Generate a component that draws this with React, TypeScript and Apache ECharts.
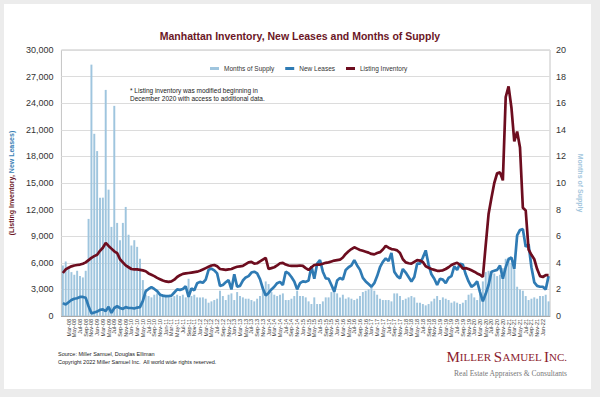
import React, { useEffect, useRef } from 'react';
import * as echarts from 'echarts';

const monthNames = ['Jan', 'Feb', 'Mar', 'Apr', 'May', 'Jun', 'Jul', 'Aug', 'Sep', 'Oct', 'Nov', 'Dec'];
const yearSuffixes = ['08', '09', '10', '11', '12', '13', '14', '15', '16', '17', '18', '19', '20', '21', '22'];
const monthCount = 171; // Jan-08 .. Mar-22
const categories: string[] = yearSuffixes
  .flatMap((y) => monthNames.map((m) => `${m}-${y}`))
  .slice(0, monthCount);

const leftTicks = { min: 0, max: 30000, interval: 3000 };
const rightTicks = { min: 0, max: 20, interval: 2 };

const monthsOfSupply = [
  3.8, 4.1, 3.6, 3.3, 3.1, 3.4, 3.0, 2.9, 3.4, 7.3, 18.9, 13.7,
  12.4, 8.9, 8.9, 17.0, 9.5, 6.7, 15.8, 7.0, 5.7, 7.0, 8.2, 6.1,
  5.3, 5.7, 5.2, 4.3, 2.7, 1.6, 1.5, 1.4, 1.6, 1.7, 1.7, 1.6,
  1.5, 1.4, 1.4, 1.5, 1.6, 1.5, 1.6, 1.4, 2.8, 1.5, 1.6, 1.4,
  1.4, 1.4, 1.3, 1.0, 1.1, 1.2, 1.3, 1.9, 1.5, 1.2, 1.6, 1.7,
  1.2, 1.8, 1.5, 1.4, 1.3, 1.3, 1.2, 1.1, 1.3, 1.5, 2.2, 2.6,
  2.4, 1.8, 1.6, 1.5, 1.6, 1.7, 1.2, 1.2, 1.3, 1.5, 1.9, 1.5,
  1.5, 1.4, 1.1, 0.9, 1.4, 0.9, 0.9, 1.1, 1.4, 1.4, 1.8, 2.2,
  1.7, 1.4, 1.6, 1.3, 1.4, 1.3, 1.2, 1.3, 1.5, 1.8, 1.9, 2.0,
  2.2, 1.9, 1.6, 1.3, 1.2, 1.2, 1.2, 1.1, 1.7, 1.7, 1.5, 1.2,
  1.3, 1.4, 1.5, 1.4, 1.0, 1.0, 0.9, 0.8, 0.9, 1.1, 1.3, 1.5,
  1.2, 1.4, 1.3, 1.2, 1.0, 1.1, 1.0, 0.9, 1.0, 1.2, 1.6, 1.7,
  1.4, 1.2, 1.7, 2.6, 3.3, 3.4, 3.3, 3.2, 3.0, 3.1, 3.6, 4.3,
  4.4, 4.0, 3.5, 2.2, 2.0, 1.9, 1.5, 1.2, 1.3, 1.4, 1.3, 1.5,
  1.5, 1.6, 1.1,
];

const newLeases = [
  1450, 1300, 1550, 1800, 1950, 2000, 2150, 2150, 2050, 1100, 300, 400,
  500, 700, 750, 550, 1050, 350, 900, 1100, 900, 800, 1000, 900,
  900, 850, 950, 1000, 1700, 2800, 3050, 3250, 3050, 2800, 2400, 2300,
  2250, 2250, 2300, 2650, 3000, 2950, 3050, 3350, 2150, 3100, 2900, 3700,
  3850, 3750, 4100, 5200, 5350, 5150, 4800, 3400, 3500, 3800, 4050, 3000,
  4700, 3300, 3400, 4000, 4350, 4500, 4900, 5000, 4800, 4150, 3100, 2300,
  2600, 3000, 3300, 3700, 3850, 3500, 5000, 4800, 4400, 3900, 3000, 3700,
  3900, 3850, 4000, 5600, 4200, 5900, 6300, 5000, 4250, 4200, 3500, 2750,
  4000, 4300, 4100, 5200, 5500, 5700, 6300, 5700, 5200, 4300, 3900, 3600,
  3300, 3700, 4500, 5500, 6100, 6500, 6200, 7100, 5000, 4500, 4250, 5300,
  4900, 4400, 3900, 4400, 5900, 5900, 6600, 7400, 5800, 4700, 4200, 3500,
  4200, 4100, 3700, 4300, 4500, 5600, 5200, 5900, 5800, 4700, 3900, 3300,
  3500, 3900, 2700, 1650, 2500, 3500, 5000, 5100, 5200, 5700, 4200, 5500,
  6400, 6600, 5300, 9100, 9700, 9800, 7800, 8100, 5500, 3800, 3400, 3300,
  3300, 3000, 4500,
];

const listingInventory = [
  4850, 5250, 5450, 5600, 5700, 5750, 5800, 5900, 6050, 6300, 6550, 6750,
  6900, 7350, 7700, 8250, 7900, 7600, 7300, 7100, 6400, 6050, 5700, 5500,
  5300, 5250, 5250, 5200, 5150, 5050, 4800, 4650, 4500, 4300, 4150, 4000,
  3900, 3850, 3900, 4100, 4400, 4600, 4750, 4800, 4850, 4900, 4950, 5000,
  5100, 5250, 5400, 5550, 5700, 5750, 5600, 5300, 5250, 5200, 5250, 5300,
  5450, 5550, 5600, 5650, 5850, 6050, 6100, 5900, 5950, 6150, 6350, 6550,
  5300, 5400, 5500, 5700, 5950, 6000, 5800, 5700, 5650, 5650, 5650, 5700,
  5650, 5400, 5200, 5500, 5750, 5800, 5800, 5900, 6000, 6050, 6150, 6250,
  6300, 6350, 6600, 7000, 7300, 7550, 7750, 7600, 7450, 7350, 7250, 7150,
  7000, 6950, 7100, 7200, 7500, 7900, 7700, 7550, 7500, 7400, 7100, 6400,
  6050, 5950, 5900, 6100, 6300, 6250, 6100, 5600, 5450, 5300, 5200, 5100,
  5100, 5150, 5300, 5500, 5750, 5900, 6000, 5750, 5350, 5400, 5300, 5150,
  5000, 4800, 4650, 4400, 8000, 11500, 13300, 15000, 16100, 16200, 15300, 24700,
  25900, 23500, 19700, 20800, 19000, 12200, 11900, 7500, 6900, 6400, 5300, 4500,
  4400, 4600, 4600,
];

const FONT = '"Liberation Sans", Arial, sans-serif';
const SERIF = '"Liberation Serif", "DejaVu Serif", serif';

export default function App() {
  const ref = useRef<HTMLDivElement>(null);

  useEffect(() => {
    if (!ref.current) return;
    const chart = echarts.init(ref.current, null, { renderer: 'svg' });
    chart.setOption({
      animation: false,
      textStyle: { fontFamily: FONT },
      title: {
        text: 'Manhattan Inventory, New Leases and Months of Supply',
        left: 'center',
        top: 25,
        textStyle: { fontSize: 10.5, fontWeight: 'bold', color: '#6b1626', fontFamily: FONT },
      },
      legend: {
        left: 205,
        top: 60,
        icon: 'rect',
        itemWidth: 9,
        itemHeight: 3,
        itemGap: 11,
        textStyle: { fontSize: 6.5, color: '#333', fontFamily: FONT },
        data: ['Months of Supply', 'New Leases', 'Listing Inventory'],
      },
      grid: {
        left: 60,
        right: 50,
        top: 50,
        bottom: 81,
        show: true,
        borderColor: '#c4c4c4',
        borderWidth: 1,
      },
      xAxis: {
        type: 'category',
        data: categories,
        boundaryGap: true,
        axisLine: { lineStyle: { color: '#aaa' } },
        axisTick: { show: false },
        axisLabel: { interval: 1, rotate: 90, fontSize: 5.5, margin: 3, color: '#333' },
      },
      yAxis: [
        {
          type: 'value',
          ...leftTicks,
          axisLine: { show: false },
          axisTick: { show: false },
          axisLabel: {
            fontSize: 9,
            margin: 8,
            color: '#333',
            formatter: (v: number) => v.toLocaleString('en-US'),
          },
          splitLine: { lineStyle: { color: '#dcdcdc' } },
          name: '{r|(Listing Inventory, }{b|New Leases)}',
          nameLocation: 'middle',
          nameRotate: 90,
          nameGap: 42,
          nameTextStyle: {
            fontSize: 7,
            fontWeight: 'bold',
            rich: {
              r: { color: '#6b1626', fontSize: 7, fontWeight: 'bold', fontFamily: FONT },
              b: { color: '#3a7fb5', fontSize: 7, fontWeight: 'bold', fontFamily: FONT },
            },
          },
        },
        {
          type: 'value',
          ...rightTicks,
          axisLine: { show: false },
          axisTick: { show: false },
          axisLabel: { fontSize: 9, margin: 6, color: '#333' },
          splitLine: { show: false },
          name: 'Months of Supply',
          nameLocation: 'middle',
          nameRotate: -90,
          nameGap: 17,
          nameTextStyle: { fontSize: 7, fontWeight: 'bold', color: '#a3c6dd' },
        },
      ],
      series: [
        {
          name: 'Months of Supply',
          type: 'bar',
          yAxisIndex: 1,
          data: monthsOfSupply,
          barWidth: '68%',
          itemStyle: { color: '#9fc5de' },
        },
        {
          name: 'New Leases',
          type: 'line',
          data: newLeases,
          symbol: 'none',
          lineStyle: { width: 2.7, color: '#2f7bb4' },
          itemStyle: { color: '#2f7bb4' },
        },
        {
          name: 'Listing Inventory',
          type: 'line',
          data: listingInventory,
          symbol: 'none',
          lineStyle: { width: 2.7, color: '#6d0d1f' },
          itemStyle: { color: '#6d0d1f' },
        },
      ],
      graphic: [
        {
          type: 'text',
          left: 130,
          top: 86,
          style: {
            text: '* Listing inventory was modified beginning in\nDecember 2020 with access to additional data.',
            fontSize: 6.5,
            lineHeight: 8.5,
            fill: '#222',
            fontFamily: FONT,
          },
        },
        {
          type: 'text',
          left: 58,
          top: 351,
          style: { text: 'Source: Miller Samuel, Douglas Elliman', fontSize: 5.5, fill: '#222', fontFamily: FONT },
        },
        {
          type: 'text',
          left: 58,
          top: 359,
          style: {
            text: 'Copyright 2022 Miller Samuel Inc.  All world wide rights reserved.',
            fontSize: 5.5,
            fill: '#222',
            fontFamily: FONT,
          },
        },
        {
          type: 'text',
          x: 567,
          y: 357,
          style: {
            text: '{b|M}{s|ILLER }{b|S}{s|AMUEL }{b|I}{s|NC.}',
            align: 'right',
            verticalAlign: 'middle',
            rich: {
              b: { fontSize: 15, fill: '#8b1b2e', fontFamily: SERIF },
              s: { fontSize: 11, fill: '#8b1b2e', fontFamily: SERIF },
            },
          },
        },
        {
          type: 'text',
          x: 567,
          y: 373,
          style: {
            text: 'Real Estate Appraisers & Consultants',
            align: 'right',
            verticalAlign: 'middle',
            fontSize: 7.5,
            fill: '#777',
            fontFamily: SERIF,
          },
        },
      ],
    });
    return () => chart.dispose();
  }, []);

  return (
    <div style={{ position: 'fixed', left: 0, top: 0, width: 600, height: 397, background: '#ececec' }}>
      <div style={{ position: 'absolute', left: 4, top: 4, width: 587, height: 385, background: '#ffffff' }} />
      <div ref={ref} style={{ position: 'absolute', left: 0, top: 0, width: 600, height: 397 }} />
    </div>
  );
}
